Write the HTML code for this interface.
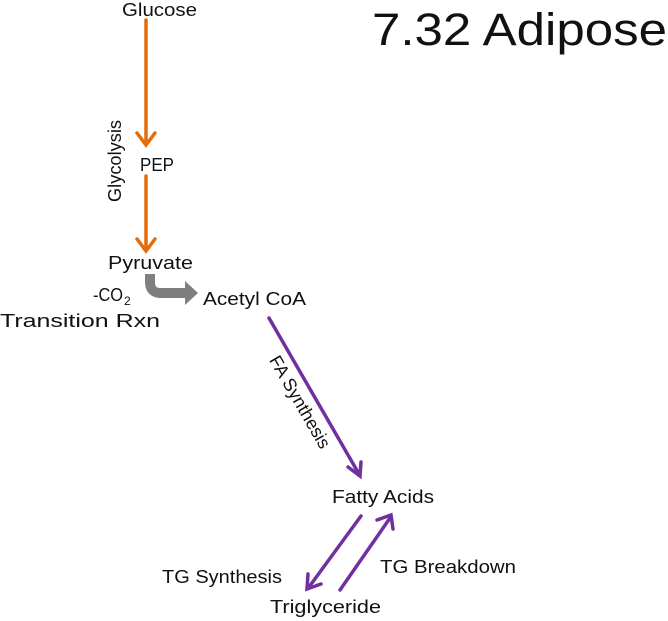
<!DOCTYPE html>
<html><head><meta charset="utf-8"><style>
html,body{margin:0;padding:0;background:#fff;width:668px;height:621px;overflow:hidden}
text{font-family:"Liberation Sans",sans-serif;fill:#111;font-size:18px}
</style></head><body>
<svg width="668" height="621" viewBox="0 0 668 621" xmlns="http://www.w3.org/2000/svg">
<text x="372" y="45" style="font-size:45px" textLength="295" lengthAdjust="spacingAndGlyphs">7.32 Adipose</text>
<text x="122" y="16" textLength="75" lengthAdjust="spacingAndGlyphs">Glucose</text>
<g stroke="#E46C0A" stroke-width="3.5" fill="none" stroke-linecap="round">
<line x1="146" y1="20" x2="146" y2="144"/>
<polyline points="137,133 146,145 155,133"/>
<line x1="146" y1="176" x2="146" y2="250"/>
<polyline points="137,239 146,251 155,239"/>
</g>
<text x="140" y="171" textLength="34" lengthAdjust="spacingAndGlyphs">PEP</text>
<text transform="translate(121,202) rotate(-90)" textLength="82" lengthAdjust="spacingAndGlyphs">Glycolysis</text>
<text x="108" y="269" textLength="85" lengthAdjust="spacingAndGlyphs">Pyruvate</text>
<text x="93" y="301" textLength="30" lengthAdjust="spacingAndGlyphs">-CO</text><text x="124" y="305" style="font-size:12px">2</text>
<text x="0" y="327" textLength="160" lengthAdjust="spacingAndGlyphs">Transition Rxn</text>
<path d="M150,274 L150,282 Q150,293 161,293 L186,293" stroke="#7F7F7F" stroke-width="10" fill="none"/>
<polygon points="185,281 198,293 185,305" fill="#7F7F7F"/>
<text x="203" y="305" textLength="103" lengthAdjust="spacingAndGlyphs">Acetyl CoA</text>
<g stroke="#7030A0" stroke-width="3.5" fill="none" stroke-linecap="round">
<line x1="269" y1="318" x2="359" y2="474"/>
<polyline points="348,467 360,476 361,462"/>
<line x1="361" y1="516" x2="309" y2="587"/>
<polyline points="308,574 307,589 321,584"/>
<line x1="340" y1="590" x2="390" y2="518"/>
<polyline points="377,520 391,515 393,529"/>
</g>
<text transform="translate(300,402) rotate(60)" text-anchor="middle" dy="6" textLength="104" lengthAdjust="spacingAndGlyphs">FA Synthesis</text>
<text x="332" y="503" textLength="102" lengthAdjust="spacingAndGlyphs">Fatty Acids</text>
<text x="162" y="583" textLength="120" lengthAdjust="spacingAndGlyphs">TG Synthesis</text>
<text x="380" y="573" textLength="136" lengthAdjust="spacingAndGlyphs">TG Breakdown</text>
<text x="270" y="613" textLength="111" lengthAdjust="spacingAndGlyphs">Triglyceride</text>
</svg>
</body></html>
